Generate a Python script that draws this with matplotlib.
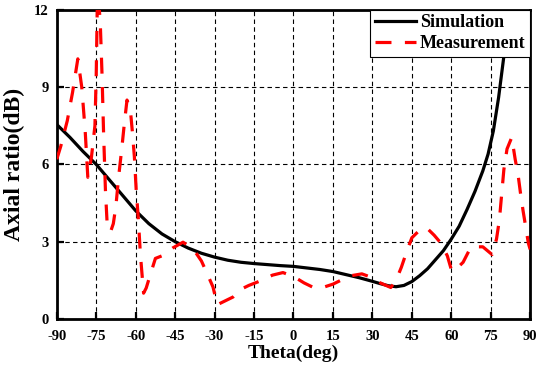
import matplotlib
matplotlib.use("Agg")
import matplotlib.pyplot as plt

# simulated axial ratio
sim_theta = [-90, -85, -80, -75, -70, -65, -60, -55, -50, -45, -40, -35, -30, -25, -20,
             -15, -10, -5, 0, 5, 10, 15, 20, 25, 30, 33, 36, 39, 42, 45, 48, 51, 54, 57,
             60, 63, 66, 69, 72, 74, 76, 78, 79, 80, 81, 82]
sim_ar = [7.55, 7.05, 6.5, 6.0, 5.4, 4.8, 4.2, 3.7, 3.3, 3.0, 2.75, 2.55, 2.4, 2.28, 2.2,
          2.15, 2.11, 2.07, 2.04, 1.98, 1.92, 1.84, 1.72, 1.6, 1.46, 1.37, 1.29, 1.25, 1.3,
          1.45, 1.68, 1.95, 2.3, 2.65, 3.1, 3.6, 4.25, 4.95, 5.75, 6.4, 7.3, 8.6, 9.4,
          10.2, 11.4, 13.0]

# measured axial ratio
meas_theta = [-90, -88.5, -86, -84, -82, -80.5, -79.2, -78.2, -76.8, -75.5, -75, -74.5,
              -73.5, -72.8, -72.2, -71.5, -70.8, -69.5, -68.5, -67.5, -66.5, -65.3, -64.3,
              -63.3, -62, -61.2, -60.5, -59.8, -59, -58.2, -57, -56, -54.5, -52.5, -50,
              -46, -42, -38, -35, -33, -30.6, -29, -26, -23, -20, -17, -12, -8, -4, 0,
              4, 8, 12, 15, 19, 22, 26, 30, 33, 37, 39, 41, 43, 45, 48, 50.5, 53.5, 56,
              58.5, 60.2, 62.5, 64.5, 66, 67.5, 72, 75.5, 77.2, 78.3, 80, 81.2, 83, 84.3,
              85.4, 86.3, 87.3, 88.5, 89.3, 90]
meas_ar = [6.2, 6.7, 7.7, 8.8, 10.1, 9.0, 7.3, 5.5, 6.3, 7.5, 9.5, 12.8, 11.6, 9.5, 7.2,
           5.0, 3.6, 3.4, 3.7, 4.4, 5.5, 6.6, 7.6, 8.5, 8.1, 7.2, 6.3, 5.0, 3.9, 2.5, 1.0,
           1.2, 1.7, 2.35, 2.45, 2.75, 2.98, 2.7, 2.25, 1.8, 1.24, 0.55, 0.7, 0.85, 1.15,
           1.3, 1.5, 1.7, 1.8, 1.65, 1.4, 1.2, 1.25, 1.35, 1.55, 1.68, 1.75, 1.6, 1.4,
           1.22, 1.5, 2.0, 2.6, 3.15, 3.45, 3.55, 3.25, 2.95, 2.45, 1.85, 2.0, 2.2, 2.5,
           2.8, 2.8, 2.5, 3.1, 3.85, 5.8, 6.6, 7.05, 6.2, 5.6, 4.9, 4.2, 3.45, 2.95, 2.7]

x_ticks = list(range(-90, 91, 15))
y_ticks = [0, 3, 6, 9, 12]

plt.rcParams['font.family'] = ['Liberation Serif', 'DejaVu Serif']
plt.rcParams['font.weight'] = 'bold'
plt.rcParams['axes.unicode_minus'] = False

fig = plt.figure(figsize=(5.46, 3.67), dpi=100)
ax = fig.add_axes([0.104, 0.131, 0.867, 0.842])

ax.plot(sim_theta, sim_ar, color='black', lw=2.3, label='Simulation', zorder=3)
ax.plot(meas_theta, meas_ar, color='red', lw=2.3, linestyle=(0, (5, 4.2)),
        label='Measurement', zorder=4)

ax.set_xlim(-90, 90)
ax.set_ylim(0, 12)
ax.set_xticks(x_ticks)
ax.set_yticks(y_ticks)
ax.grid(True, color='black', linestyle=(0, (4, 3)), lw=0.8)
ax.tick_params(direction='in', length=5, width=1.6, labelsize=10.5)
ax.tick_params(axis='x', pad=8)
ax.tick_params(axis='y', pad=6)
for s in ax.spines.values():
    s.set_linewidth(2)

ax.set_xlabel('Theta(deg)', fontsize=14, fontweight='bold', labelpad=1)
ax.set_ylabel('Axial ratio(dB)', fontsize=17, fontweight='bold', labelpad=6)

leg = ax.legend(loc='upper right', fontsize=13, frameon=True, fancybox=False,
                edgecolor='black', framealpha=1, borderaxespad=0, borderpad=0.25,
                handlelength=2.3, handletextpad=0.2, labelspacing=0.2)
leg.get_frame().set_linewidth(0.8)

fig.savefig('out.png', dpi=100)
